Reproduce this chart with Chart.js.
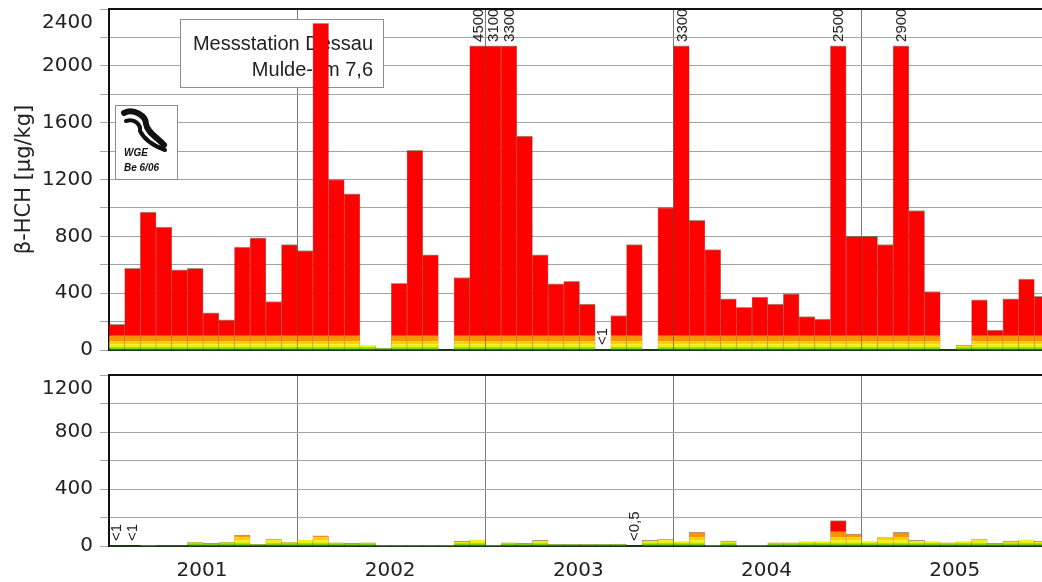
<!DOCTYPE html>
<html><head><meta charset="utf-8">
<script src="https://cdn.jsdelivr.net/npm/chart.js@4.4.1/dist/chart.umd.min.js"></script>
<style>
html,body{margin:0;padding:0;background:#fff;overflow:hidden;width:1042px;height:582px;}
#w1{position:absolute;left:0;top:0;width:1060px;height:365px;}
#w2{position:absolute;left:0;top:362px;width:1060px;height:220px;}
</style></head><body>
<div id="w1"><canvas id="c1"></canvas></div>
<div id="w2"><canvas id="c2"></canvas></div>
<script>
// ---- data ----
const years = ['2001', '2002', '2003', '2004', '2005'];
const monthNames = ['Jan','Feb','Mär','Apr','Mai','Jun','Jul','Aug','Sep','Okt','Nov','Dez'];
const categories = years.flatMap(y => monthNames.map(m => m + ' ' + y));

// β-HCH, Messstation Dessau (Mulde-km 7,6), µg/kg, monthly
const dessau = [
  180, 575, 970, 865, 565, 575, 262, 212, 725, 790, 340, 742,
  700, 2300, 1200, 1100, 30, 12, 470, 1405, 670, null, 510, 4500,
  3100, 3300, 1505, 670, 466, 483, 323, 0, 243, 742, null, 1003,
  3300, 912, 707, 360, 301, 372, 323, 396, 235, 217, 2500, 800,
  800, 742, 2900, 982, 412, null, 35, 353, 141, 360, 500, 377
];
// β-HCH, Messstation Magdeburg (Strom-km 318,1), µg/kg, monthly
const magdeburg = [
  0, 0, 2, 4, 4, 26, 19, 26, 77, 12, 47, 26,
  42, 72, 23, 20, 23, 3, 3, 3, 3, 3, 33, 42,
  3, 23, 19, 40, 12, 12, 12, 12, 14, 0, 40, 47,
  30, 98, 3, 35, 3, 3, 23, 23, 30, 30, 178, 84,
  30, 61, 96, 40, 30, 23, 30, 49, 19, 35, 42, 35
];
const dessauNotes = [[31, '<1']];
const magdeburgNotes = [[0, '<1'], [1, '<1'], [33, '<0,5']];
const dessauTicks = [0, 400, 800, 1200, 1600, 2000, 2400];
const magdeburgTicks = [0, 400, 800, 1200];
const bandLimits = [0, 20, 40, 60, 100, Infinity];
const bandColors = ['#7dcf16', '#eef200', '#ffd000', '#ff9200', '#ff0000'];

// ---- helpers ----
const TICK_FONT = {family: 'DejaVu Sans', size: 20, lineHeight: 1.4};
const CAP_FRACTION = 2140 / 2400;

function bandData(vals, yMax, lo, hi) {
  return vals.map(v => {
    if (v === null) return null;
    const d = v > yMax ? yMax * CAP_FRACTION : v;
    const b = Math.min(d, hi) - lo;
    return b > 0 ? b : null;
  });
}

function makeDatasets(vals, yMax) {
  return bandColors.map((c, b) => {
    const lo = bandLimits[b], hi = bandLimits[b + 1];
    return {
      data: bandData(vals, yMax, lo, hi),
      backgroundColor: c,
      borderColor: 'rgba(80,45,20,0.5)',
      borderSkipped: false,
      borderWidth: ctx => {
        const v = vals[ctx.dataIndex];
        const d = v === null ? 0 : (v > yMax ? yMax * CAP_FRACTION : v);
        const isTop = d > lo && d <= hi;
        return {left: 0.6, right: 0.6, top: isTop ? 1 : 0, bottom: 0};
      },
      categoryPercentage: 1,
      barPercentage: 1,
      stack: 's'
    };
  });
}

function tickCallback(list, max) {
  return v => list.includes(v) ? (v === max ? ['', String(v)] : String(v)) : '';
}

function rotatedText(ctx, text, x, y, font) {
  ctx.save();
  ctx.translate(x, y);
  ctx.rotate(-Math.PI / 2);
  ctx.font = font;
  ctx.fillStyle = '#222';
  ctx.textAlign = 'left';
  ctx.textBaseline = 'middle';
  ctx.fillText(text, 0, 0);
  ctx.restore();
}

function labelsPlugin(vals, notes, yMax) {
  return {
    id: 'lbl',
    afterDatasetsDraw(chart) {
      const ctx = chart.ctx, xs = chart.scales.x, ys = chart.scales.y;
      vals.forEach((v, i) => {
        if (v !== null && v > yMax) {
          rotatedText(ctx, String(v), xs.getPixelForValue(i) + 1, ys.getPixelForValue(yMax * CAP_FRACTION) - 4, '15px "Liberation Sans"');
        }
      });
      notes.forEach(([i, t]) => {
        rotatedText(ctx, t, xs.getPixelForValue(i), ys.getPixelForValue(0) - 5, '15px "Liberation Sans"');
      });
    },
    afterDraw(chart) {
      const ctx = chart.ctx, a = chart.chartArea;
      ctx.save();
      ctx.strokeStyle = '#111';
      ctx.lineWidth = 2;
      ctx.beginPath();
      ctx.moveTo(a.left - 1, a.top);
      ctx.lineTo(a.right, a.top);
      ctx.stroke();
      ctx.restore();
    }
  };
}

function boxPlugin(draw) {
  return { id: 'box', beforeDatasetsDraw(chart) { draw(chart.ctx); } };
}

function drawBox(ctx, x, y, w, h) {
  ctx.save();
  ctx.fillStyle = '#fff';
  ctx.fillRect(x, y, w, h);
  ctx.strokeStyle = '#8c8c8c';
  ctx.lineWidth = 1;
  ctx.strokeRect(x + 0.5, y + 0.5, w, h);
  ctx.restore();
}

function baseOptions(yMax, tickList, padding, xHeight, showX, title) {
  return {
    responsive: true,
    maintainAspectRatio: false,
    animation: false,
    layout: {padding},
    plugins: {legend: {display: false}, tooltip: {enabled: false}},
    scales: {
      x: {
        stacked: true,
        offset: true,
        grid: {
          offset: true, drawTicks: false, lineWidth: 1,
          color: c => (c.index !== undefined && c.index % 12 === 0) ? '#7a7a7a' : 'rgba(0,0,0,0)'
        },
        border: {display: true, color: '#1b351b', width: 2},
        ticks: {
          display: showX, autoSkip: false, maxRotation: 0, minRotation: 0,
          padding: 13, labelOffset: -9, color: '#222', font: {family: 'DejaVu Sans', size: 20},
          callback: (v, i) => (i % 12 === 6) ? years[Math.floor(i / 12)] : ''
        },
        afterFit: s => { s.height = xHeight; s.paddingLeft = 0; s.paddingRight = 0; }
      },
      y: {
        stacked: true,
        min: 0, max: yMax,
        ticks: {stepSize: 200, autoSkip: false, padding: 7, color: '#222', font: TICK_FONT, callback: tickCallback(tickList, yMax)},
        grid: {color: '#a4a4a4', lineWidth: 1, tickLength: 9, drawTicks: true},
        border: {display: true, color: '#111', width: 2},
        title: title ? {display: true, text: title, color: '#222', font: {family: 'DejaVu Sans', size: 21}, padding: {top: 12, bottom: 0}} : {display: false},
        afterFit: s => { s.width = 109; s.paddingTop = 0; s.paddingBottom = 0; }
      }
    }
  };
}

// ---- top chart: Dessau ----
new Chart(document.getElementById('c1'), {
  type: 'bar',
  data: {labels: categories, datasets: makeDatasets(dessau, 2400)},
  options: baseOptions(2400, dessauTicks, {left: 0, right: 10, top: 9, bottom: 15}, 0, false, 'β-HCH [µg/kg]'),
  plugins: [
    boxPlugin(ctx => {
      drawBox(ctx, 180, 19, 203, 68);
      ctx.save();
      ctx.fillStyle = '#222';
      ctx.font = '20px "Liberation Sans"';
      ctx.textAlign = 'right';
      ctx.textBaseline = 'alphabetic';
      ctx.fillText('Messstation Dessau', 373, 50);
      ctx.fillText('Mulde-km 7,6', 373, 76);
      ctx.restore();
      // WGE logo
      drawBox(ctx, 115, 105, 62, 74);
      ctx.save();
      ctx.strokeStyle = '#111';
      ctx.lineCap = 'round';
      ctx.lineJoin = 'round';
      ctx.lineWidth = 6;
      ctx.beginPath();
      ctx.moveTo(124, 113);
      ctx.bezierCurveTo(134, 108, 146, 116, 146, 124);
      ctx.bezierCurveTo(147, 132, 158, 138, 164, 145);
      ctx.stroke();
      ctx.lineWidth = 4;
      ctx.beginPath();
      ctx.moveTo(126, 121);
      ctx.bezierCurveTo(135, 118, 141, 125, 140, 131);
      ctx.bezierCurveTo(144, 139, 154, 146, 165, 150);
      ctx.stroke();
      ctx.fillStyle = '#111';
      ctx.font = 'italic bold 10px "Liberation Sans"';
      ctx.textAlign = 'left';
      ctx.fillText('WGE', 124, 156);
      ctx.fillText('Be 6/06', 124, 171);
      ctx.restore();
    }),
    labelsPlugin(dessau, dessauNotes, 2400)
  ]
});

// ---- bottom chart: Magdeburg ----
new Chart(document.getElementById('c2'), {
  type: 'bar',
  data: {labels: categories, datasets: makeDatasets(magdeburg, 1200)},
  options: baseOptions(1200, magdeburgTicks, {left: 0, right: 10, top: 13, bottom: 0}, 36, true, null),
  plugins: [
    boxPlugin(ctx => {
      drawBox(ctx, 708, 386, 332, 68);
      ctx.save();
      ctx.fillStyle = '#222';
      ctx.font = '21px "Liberation Sans"';
      ctx.textAlign = 'center';
      ctx.textBaseline = 'alphabetic';
      ctx.fillText('Messstation Magdeburg', 875, 416);
      ctx.fillText('Strom-km 318,1', 875, 442);
      ctx.restore();
    }),
    labelsPlugin(magdeburg, magdeburgNotes, 1200)
  ]
});
</script>
</body></html>
